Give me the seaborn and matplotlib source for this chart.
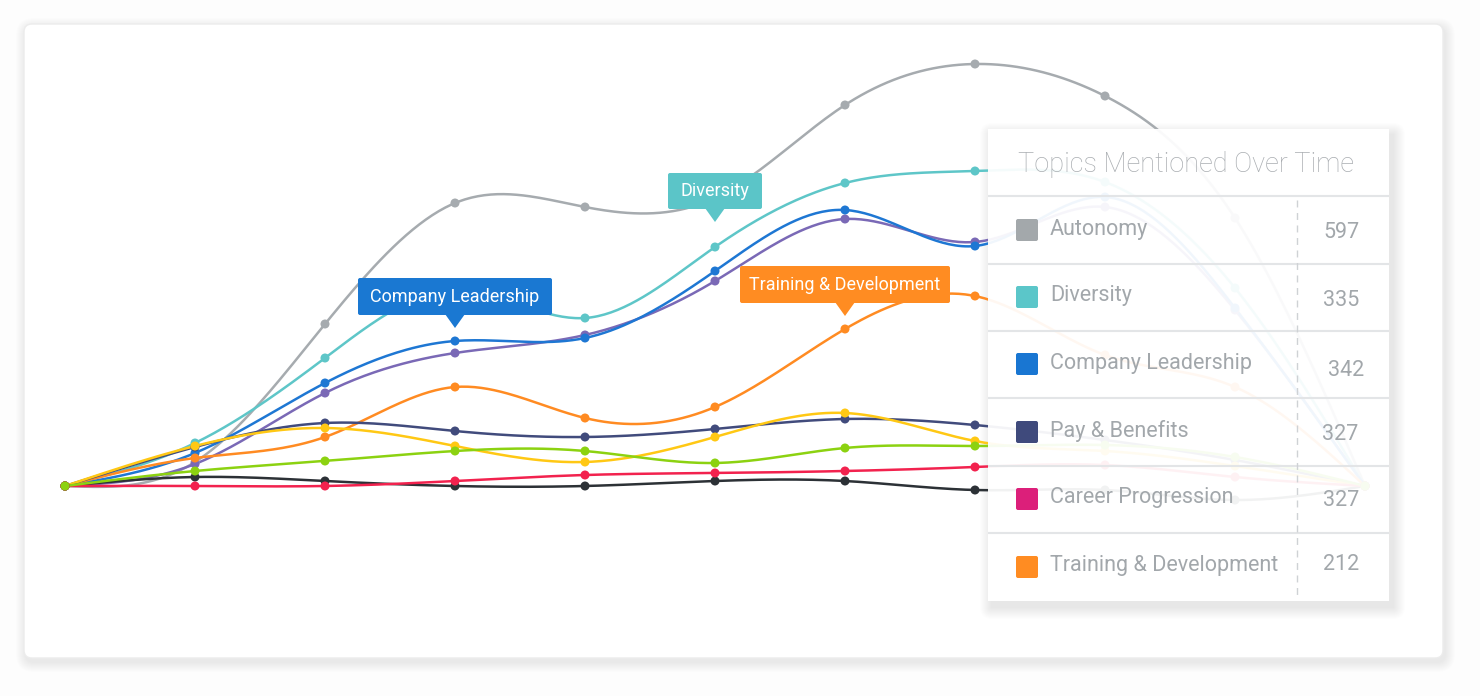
import numpy as np
import pandas as pd
import seaborn as sns
import matplotlib.pyplot as plt
from matplotlib.patches import FancyBboxPatch, Polygon
from matplotlib.transforms import IdentityTransform

# mentions per period
periods = list(range(11))
autonomy = [0, 24, 162, 283, 279, 288, 381, 422, 390, 268, 0]
diversity = [0, 43, 128, 196, 168, 239, 303, 315, 304, 198, 0]
leadership = [0, 33, 103, 145, 148, 215, 276, 240, 289, 178, 0]
recognition = [0, 22, 93, 133, 151, 205, 267, 244, 279, 176, 0]
training = [0, 28, 49, 99, 68, 79, 157, 190, 131, 99, 0]
pay = [0, 39, 63, 55, 49, 57, 67, 61, 46, 26, 0]
workload = [0, 40, 58, 40, 24, 49, 73, 45, 35, 20, 0]
culture = [0, 15, 25, 35, 35, 23, 38, 40, 41, 29, 0]
career = [0, 0, 0, 5, 11, 13, 15, 19, 21, 9, 0]
management = [0, 9, 5, 0, 0, 5, 5, -4, -4, -14, 0]

series = {
    "Autonomy": autonomy,
    "Diversity": diversity,
    "Recognition": recognition,
    "Company Leadership": leadership,
    "Training & Development": training,
    "Pay & Benefits": pay,
    "Workload": workload,
    "Management": management,
    "Career Progression": career,
    "Culture": culture,
}
colors = {
    "Autonomy": "#a6abaf",
    "Diversity": "#5ec6c8",
    "Recognition": "#7a69b6",
    "Company Leadership": "#1e77d3",
    "Training & Development": "#ff8b22",
    "Pay & Benefits": "#414b7c",
    "Workload": "#ffc814",
    "Management": "#2c3136",
    "Career Progression": "#f2224e",
    "Culture": "#8cd211",
}

legend_topics = ["Autonomy", "Diversity", "Company Leadership",
                 "Pay & Benefits", "Career Progression", "Training & Development"]
legend_colors = ["#a3a8ab", "#5bc6c9", "#1976d2", "#3f4a7c", "#dc1f7a", "#ff8c22"]
legend_totals = [597, 335, 342, 327, 327, 212]


def natural_spline(y, steps=40):
    y = np.asarray(y, dtype=float)
    n = len(y)
    A = np.diag(np.full(n - 2, 4.0)) + np.diag(np.ones(n - 3), 1) + np.diag(np.ones(n - 3), -1)
    rhs = 6 * (y[2:] - 2 * y[1:-1] + y[:-2])
    M = np.zeros(n)
    M[1:-1] = np.linalg.solve(A, rhs)
    xs, ys = [], []
    for i in range(n - 1):
        t = np.linspace(0, 1, steps, endpoint=False)
        s = ((1 - t) * y[i] + t * y[i + 1]
             + ((1 - t) ** 3 - (1 - t)) * M[i] / 6 + (t ** 3 - t) * M[i + 1] / 6)
        xs.extend(i + t)
        ys.extend(s)
    xs.append(n - 1)
    ys.append(y[-1])
    return np.array(xs), np.array(ys)


curve_rows = []
point_rows = []
for name, vals in series.items():
    xs, ys = natural_spline(vals)
    curve_rows.append(pd.DataFrame({"topic": name, "x": xs, "mentions": ys}))
    point_rows.append(pd.DataFrame({"topic": name, "period": periods, "mentions": vals}))
curves = pd.concat(curve_rows, ignore_index=True)
points = pd.concat(point_rows, ignore_index=True)

W, H = 1480, 696
fig = plt.figure(figsize=(W / 100, H / 100), dpi=100)
fig.patch.set_facecolor("#fdfdfd")
plt.rcParams["font.family"] = ["Roboto", "DejaVu Sans"]

ident = IdentityTransform()


def rect(x, y_top, w, h, r, color, alpha=1.0, z=-1, ec="none", lw=0):
    p = FancyBboxPatch((x, H - y_top - h), w, h, boxstyle=f"round,pad=0,rounding_size={r}",
                       transform=ident, facecolor=color, edgecolor=ec, lw=lw,
                       alpha=alpha, zorder=z)
    fig.patches.append(p)
    return p


# card with soft shadow
for k in range(10, 0, -1):
    rect(24 - k + 2, 24 - k + 4, 1419 + 2 * k, 634 + 2 * k, 8 + k, "#000000", alpha=0.006, z=-3)
rect(24, 24, 1419, 634, 8, "white", z=-2, ec="#ececec", lw=1)

# legend panel shadow (under the lines, masked by a white base)
lx, ly, lw_, lh = 988, 129, 401, 472
for k in range(12, 0, -1):
    rect(lx - k + 4, ly - k + 6, lw_ + 2 * k, lh + 2 * k, k, "#000000", alpha=0.009, z=-1.8)
rect(lx, ly, lw_, lh, 0, "white", z=-1.5)

ax = fig.add_axes([24 / W, (H - 658) / H, 1419 / W, 634 / H])
ax.set_facecolor("none")

sns.lineplot(data=curves, x="x", y="mentions", hue="topic", hue_order=list(series),
             palette=colors, estimator=None, sort=False, lw=1.8, legend=False, ax=ax)
sns.scatterplot(data=points, x="period", y="mentions", hue="topic", hue_order=list(series),
                palette=colors, s=42, edgecolor="none", legend=False, ax=ax, zorder=3)

ax.set_xlim(-0.3154, 10.6)
ax.set_ylim(-172, 462)
ax.axis("off")


def callout(text, period, value, color, box_w, box_h, tip_gap):
    px, py = ax.transData.transform((period, value))
    tip = py + tip_gap
    bottom = tip + 13
    p = FancyBboxPatch((px - box_w / 2, bottom), box_w, box_h,
                       boxstyle="round,pad=0,rounding_size=2", transform=ident,
                       facecolor=color, edgecolor="none", zorder=6)
    fig.patches.append(p)
    tri = Polygon([(px - 10, bottom + 1), (px + 10, bottom + 1), (px, tip)], closed=True,
                  transform=ident, facecolor=color, edgecolor="none", zorder=6)
    fig.patches.append(tri)
    fig.text(px / W, (bottom + box_h / 2) / H, text, color="white", fontsize=13,
             ha="center", va="center", zorder=7)


callout("Company Leadership", 3, leadership[3], "#1a78d2", 194, 37, 13)
callout("Diversity", 5, diversity[5], "#5bc5c8", 94, 36, 25)
callout("Training & Development", 6, training[6], "#ff8c22", 210, 37, 13)

# legend panel
lax = fig.add_axes([lx / W, (H - ly - lh) / H, lw_ / W, lh / H], zorder=5)
lax.set_facecolor("white")
lax.patch.set_alpha(0.94)
lax.set_xlim(0, lw_)
lax.set_ylim(lh, 0)
lax.set_xticks([])
lax.set_yticks([])
for s in lax.spines.values():
    s.set_visible(False)

lax.text(30, 36, "Topics Mentioned Over Time", fontsize=19.5, color="#a9adb1",
         fontweight="light", va="center", ha="left")
for yy in [67, 135, 202, 269, 337, 404]:
    lax.axhline(yy, color="#e3e5e7", lw=1.5)
lax.plot([309, 309], [71, 469], color="#cfd2d5", lw=1, ls=(0, (5, 4)))

row_centers = [101, 168, 235, 303, 370, 438]
value_x = [335, 335, 340, 334, 335, 335]
value_dy = [3, 3, 6, 3, 1, -2]
for name, c, total, yc, vx, dy in zip(legend_topics, legend_colors, legend_totals,
                                      row_centers, value_x, value_dy):
    sw = FancyBboxPatch((28, yc - 11), 22, 22, boxstyle="round,pad=0,rounding_size=2",
                        facecolor=c, edgecolor="none")
    lax.add_patch(sw)
    lax.text(62, yc - 1, name, fontsize=15.5, color="#a2a7ab", va="center", ha="left")
    lax.text(vx, yc + dy, str(total), fontsize=15.5, color="#a2a7ab", va="center", ha="left")

fig.savefig("out.png", dpi=100, facecolor=fig.get_facecolor())
